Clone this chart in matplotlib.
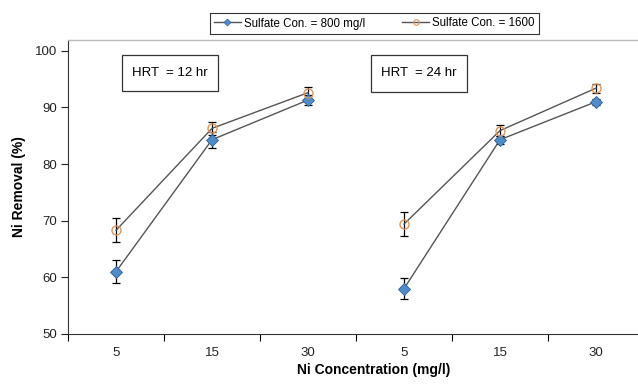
import matplotlib
matplotlib.use("Agg")
import matplotlib.pyplot as plt
from matplotlib.patches import Rectangle

plt.rcParams['font.family'] = ['Liberation Sans', 'DejaVu Sans']

hrt_labels = ["HRT  = 12 hr", "HRT  = 24 hr"]
conc_labels = ["5", "15", "30"]
series_names = ["Sulfate Con. = 800 mg/l", "Sulfate Con. = 1600"]

s800_hrt12 = [61.0, 84.3, 91.3]
s800_hrt24 = [58.0, 84.3, 91.0]
s1600_hrt12 = [68.3, 86.3, 92.6]
s1600_hrt24 = [69.4, 85.9, 93.4]

e800_hrt12 = [2.0, 1.4, 0.9]
e800_hrt24 = [1.8, 0.7, 0.5]
e1600_hrt12 = [2.1, 1.1, 1.0]
e1600_hrt24 = [2.1, 1.0, 0.8]

W, H = 638, 385
fig = plt.figure(figsize=(W / 100, H / 100), dpi=100)
ax = fig.add_axes([68 / W, 1 - 334 / H, 576 / W, 294 / H])

x12 = [0, 1, 2]
x24 = [3, 4, 5]

blue_face = '#4f8cc9'
blue_edge = '#2f5f8f'
orange = '#d9975c'
line_c = '#555555'

for xs, ys, es in [(x12, s800_hrt12, e800_hrt12), (x24, s800_hrt24, e800_hrt24)]:
    ax.errorbar(xs, ys, yerr=es, fmt='none', ecolor='black', elinewidth=0.9,
                capsize=3, capthick=0.9, zorder=2)
    ax.plot(xs, ys, color=line_c, lw=1.0, marker='D', markersize=6.3,
            markerfacecolor=blue_face, markeredgecolor=blue_edge,
            markeredgewidth=0.6, zorder=3)

for xs, ys, es in [(x12, s1600_hrt12, e1600_hrt12), (x24, s1600_hrt24, e1600_hrt24)]:
    ax.errorbar(xs, ys, yerr=es, fmt='none', ecolor='black', elinewidth=0.9,
                capsize=3, capthick=0.9, zorder=2)
    ax.plot(xs, ys, color=line_c, lw=1.0, marker='o', markersize=6.5,
            markerfacecolor='none', markeredgecolor=orange,
            markeredgewidth=1.0, zorder=3)

ax.set_xlim(-0.5, 5.5)
ax.set_ylim(50, 101.9)
ax.set_yticks([50, 60, 70, 80, 90, 100])
ax.tick_params(axis='y', direction='out', length=5, width=0.8, labelsize=9.5,
               colors='#222222', pad=3)

ax.set_xticks([-0.5, 0.5, 1.5, 2.5, 3.5, 4.5, 5.5])
ax.set_xticklabels([])
ax.set_xticks([0, 1, 2, 3, 4, 5], minor=True)
ax.set_xticklabels(conc_labels + conc_labels, minor=True)
ax.tick_params(axis='x', which='major', direction='out', length=5, width=0.8)
ax.tick_params(axis='x', which='minor', length=0, labelsize=9.5, pad=9,
               colors='#222222')

ax.spines['right'].set_visible(False)
ax.spines['top'].set_color('#bbbbbb')
ax.spines['top'].set_linewidth(1.0)
ax.spines['left'].set_color('#333333')
ax.spines['bottom'].set_color('#333333')

ax.set_ylabel("Ni Removal (%)", fontsize=10, fontweight='bold', labelpad=6)
fig.text(374 / W, 1 - 370 / H, "Ni Concentration (mg/l)", fontsize=10,
         fontweight='bold', ha='center', va='center')

# HRT boxes
for (x0, y0, x1, y1), lab in zip([(122, 55, 218, 91), (371, 55, 467, 92)], hrt_labels):
    fig.patches.append(Rectangle((x0 / W, 1 - y1 / H), (x1 - x0) / W, (y1 - y0) / H,
                                 transform=fig.transFigure, fill=False,
                                 edgecolor='#333333', lw=0.9))
    fig.text((x0 + x1) / 2 / W, 1 - (y0 + y1) / 2 / H, lab, fontsize=9.5,
             ha='center', va='center')

h1, = ax.plot([], [], color=line_c, lw=1.0, marker='D', markersize=3.5,
              markerfacecolor=blue_face, markeredgecolor=blue_edge, markeredgewidth=0.5)
h2, = ax.plot([], [], color=line_c, lw=1.0, marker='o', markersize=4,
              markerfacecolor='none', markeredgecolor=orange, markeredgewidth=0.8)
leg = fig.legend([h1, h2], series_names, loc='center', ncol=2,
                 bbox_to_anchor=(374.5 / W, 1 - 23.5 / H), fontsize=8.3,
                 frameon=True, fancybox=False, edgecolor='black',
                 handlelength=2.3, columnspacing=3.2, borderpad=0.4,
                 handletextpad=0.3, borderaxespad=0)
leg.get_frame().set_linewidth(0.8)

fig.savefig("out.png", dpi=100)
